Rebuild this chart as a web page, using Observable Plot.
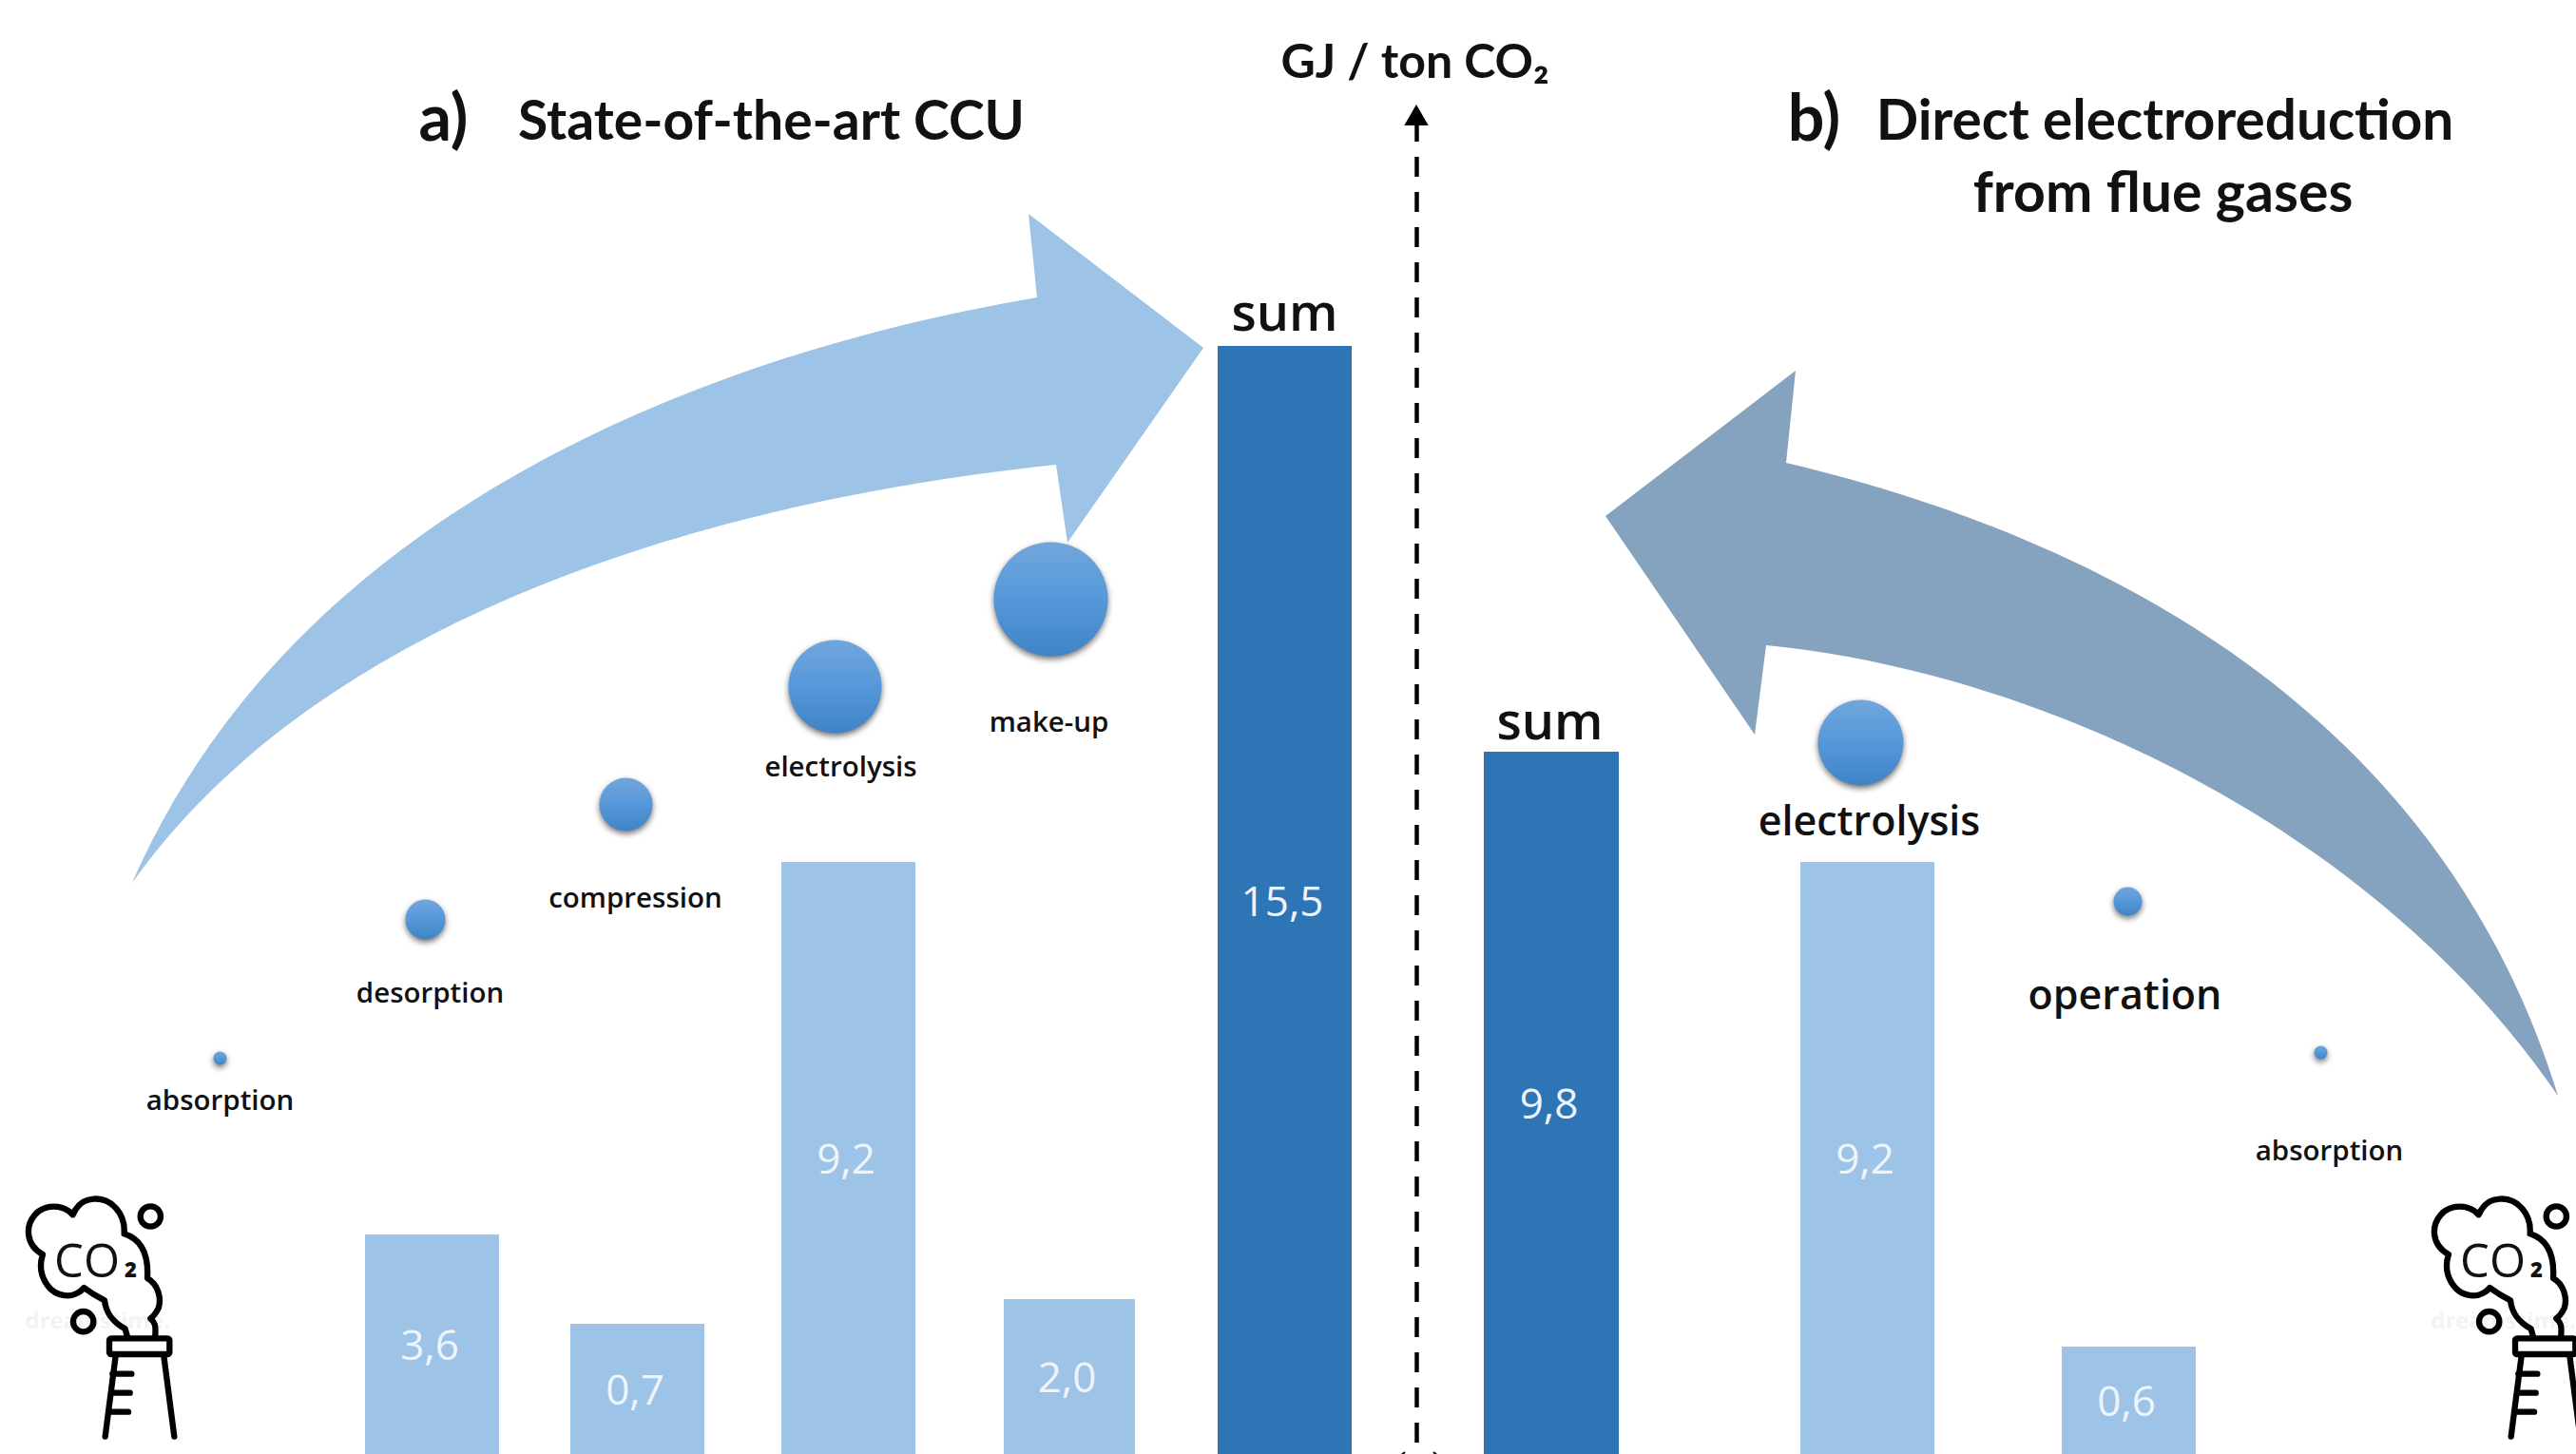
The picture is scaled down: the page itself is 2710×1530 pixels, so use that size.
<!DOCTYPE html>
<html>
<head>
<meta charset="utf-8">
<style>html,body{margin:0;padding:0;background:#fff}svg{display:block}</style>
<script src="https://cdn.jsdelivr.net/npm/d3@7"></script>
<script src="https://cdn.jsdelivr.net/npm/@observablehq/plot@0.6"></script>
</head>
<body>
<script>
// Energy use per ton of CO2: two routes, each with its process steps and a total.
const barCategories = ["desorption", "compression", "electrolysis", "make-up", "sum", "sum", "electrolysis", "operation"];
const barValues = [3.6, 0.7, 9.2, 2.0, 15.5, 9.8, 9.2, 0.6];

// Bubble sizes and where each step sits along its rising path.
const bubbleSteps = ["absorption", "desorption", "compression", "electrolysis", "make-up", "electrolysis", "operation", "absorption"];
const bubbleRadii = [7, 21, 28, 49, 60, 45, 15, 7];
const bubbleX = [231, 447, 658, 878, 1105, 1957, 2238, 2441];
const bubbleY = [1113, 967, 846, 722, 630, 781, 948, 1107];

// Column extents.
const barLeft = [384, 600, 822, 1056, 1281, 1561, 1894, 2169];
const barRight = [525, 741, 963, 1194, 1422, 1703, 2035, 2310];

// The value axis is drawn broken: each labelled value has its own anchor.
const axisValues = [0, 0.6, 0.7, 2.0, 3.6, 9.2, 9.8, 15.5];
const axisPixels = [1530, 1417, 1393, 1367, 1299, 907, 791, 364];

const lightBlue = "#9dc3e6", darkBlue = "#2e75b6", slate = "#85a3be";
const font = "'Open Sans', sans-serif";
const titleFont = "Lato, sans-serif";

const brokenAxis = d3.scaleLinear().domain(axisValues).range(axisPixels);
const bars = barValues.map((value, i) => ({
  category: barCategories[i], value, left: barLeft[i], right: barRight[i],
  label: value.toFixed(1).replace(".", ","),
  cx: (barLeft[i] + barRight[i]) / 2,
  cy: (brokenAxis(0) + brokenAxis(value)) / 2
}));
const bubbles = bubbleSteps.map((step, i) => ({step, r: bubbleRadii[i], x: bubbleX[i], y: bubbleY[i]}));

// Text placed directly in frame coordinates.
const stepLabels = [
  ["absorption", 231, 1167, 29.5], ["desorption", 452, 1054, 29.5], ["compression", 668, 954, 29.5],
  ["electrolysis", 884, 816, 29.5], ["make-up", 1103, 769, 29.5], ["absorption", 2450, 1220, 29.5],
  ["electrolysis", 1966, 878, 43], ["operation", 2235, 1061, 43],
  ["sum", 1351, 347, 54], ["sum", 1630, 777, 54]
].map(([text, x, y, size]) => ({text, x, y, size}));
const titleLabels = [
  ["a)", 466, 147, 68], ["State-of-the-art CCU", 811, 146, 57],
  ["b)", 1908, 147, 68], ["Direct electroreduction", 2277, 146, 58.5], ["from flue gases", 2275, 222, 59],
  ["GJ / ton CO₂", 1488, 81, 50]
].map(([text, x, y, size]) => ({text, x, y, size}));

const frameText = (rows, options) => Plot.text(rows, {
  x: "x", y: {value: (d) => d.y, scale: null}, text: "text", fontSize: "size",
  lineAnchor: "bottom", textAnchor: "middle", fontFamily: font, ...options
});

// Swept arrow outlines: tail, curved edge, straight head, curved edge back.
function sweptArrow(d, fill) {
  return () => d3.create("svg:path").attr("d", d).attr("fill", fill).node();
}
const arrowA = sweptArrow(
  "M139 929C300 560 700 380 1091 313L1082 225L1266 366L1123 571L1111 489C720 530 330 660 139 929Z",
  lightBlue
);
const arrowB = sweptArrow(
  "M2691 1153C2570 760 2230 570 1879 487L1889 390L1689 543L1846 773L1858 679C2130 705 2490 860 2691 1153Z",
  slate
);

// Smokestack with its cloud, drawn at one third of its path units.
function smokestack(dx) {
  return () => {
    const g = d3.create("svg:g")
      .attr("transform", `translate(${dx},1150) scale(${1 / 3})`)
      .attr("fill", "none").attr("stroke", "black").attr("stroke-width", 19)
      .attr("stroke-linecap", "round").attr("stroke-linejoin", "round");
    g.append("path").attr("d",
      "M392 440C395 380 350 330 295 335C260 337 240 360 230 385C200 350 140 350 110 385C80 420 80 480 135 510" +
      "C115 570 150 640 215 640C235 640 255 628 265 615C285 630 300 640 330 655C335 700 360 725 395 745L402 770" +
      "M392 445C440 460 470 500 465 585C500 605 510 650 500 680C490 700 485 705 475 712C495 730 490 745 490 770" +
      "M365 830L332 1085M517 830L550 1085M355 887H415M350 947H410M343 1007H405");
    g.append("rect").attr("x", 345).attr("y", 775).attr("width", 190).attr("height", 50).attr("rx", 6);
    g.append("circle").attr("cx", 475).attr("cy", 390).attr("r", 32);
    g.append("circle").attr("cx", 263).attr("cy", 722).attr("r", 32);
    return g.node();
  };
}
const stackOffsets = [0, 2531];
const stackMarks = stackOffsets.flatMap((dx) => [
  frameText([{text: "dreamstime.", x: 102 + dx, y: 1397, size: 24}], {fill: "#f3f3f3", fontWeight: 700}),
  smokestack(dx),
  frameText([{text: "CO", x: 91 + dx, y: 1343, size: 49}], {fill: "#111", fontWeight: 500}),
  frameText([{text: "2", x: 137 + dx, y: 1343, size: 22}], {fill: "#111", fontWeight: 800})
]);

// Dashed arrow separating the two routes.
const axisArrow = () => d3.create("svg:path")
  .attr("d", "M1490 112L1501 131H1479Z M1472 1533L1478 1528M1508 1528L1514 1533")
  .attr("fill", "black").attr("stroke", "black").attr("stroke-width", 2)
  .node();

const bubbleGradient = () => {
  const defs = d3.create("svg:defs");
  const grad = defs.append("linearGradient").attr("id", "bubble-fill")
    .attr("x1", 0).attr("y1", 0).attr("x2", 0).attr("y2", 1);
  grad.append("stop").attr("offset", "0%").attr("stop-color", "#72a6dc");
  grad.append("stop").attr("offset", "50%").attr("stop-color", "#5598da");
  grad.append("stop").attr("offset", "100%").attr("stop-color", "#3f84c7");
  return defs.node();
};

const chart = Plot.plot({
  width: 2710,
  height: 1530,
  margin: 0,
  style: {background: "white", fontFamily: font},
  x: {domain: [0, 2710], range: [0, 2710], axis: null},
  y: {domain: [0, 1530], range: [0, 1530], transform: brokenAxis, axis: null},
  r: {type: "identity"},
  color: {type: "identity"},
  marks: [
    bubbleGradient,
    ...stackMarks,
    Plot.rect(bars, {
      x1: "left", x2: "right", y1: 0, y2: "value",
      fill: (d) => (d.category === "sum" ? darkBlue : lightBlue)
    }),
    Plot.ruleX([1490], {insetTop: 128, strokeWidth: 4.5, stroke: "black", strokeDasharray: "21 16"}),
    axisArrow,
    arrowA,
    arrowB,
    Plot.dot(bubbles, {
      x: "x", y: {value: (d) => d.y, scale: null}, r: "r",
      fill: "url(#bubble-fill)", imageFilter: "drop-shadow(0 3px 3px rgba(0,0,0,.55))"
    }),
    Plot.text(bars, {
      x: "cx", y: {value: (d) => d.cy, scale: null}, text: "label", dx: -3, dy: 2,
      fill: "#eef4fb", fontSize: 44, fontWeight: 400, fontFamily: font, lineAnchor: "middle"
    }),
    frameText(stepLabels, {fill: "#111", fontWeight: 600}),
    frameText(titleLabels, {fill: "#111", fontWeight: 700, fontFamily: titleFont})
  ]
});
document.body.append(chart);
</script>
</body>
</html>
